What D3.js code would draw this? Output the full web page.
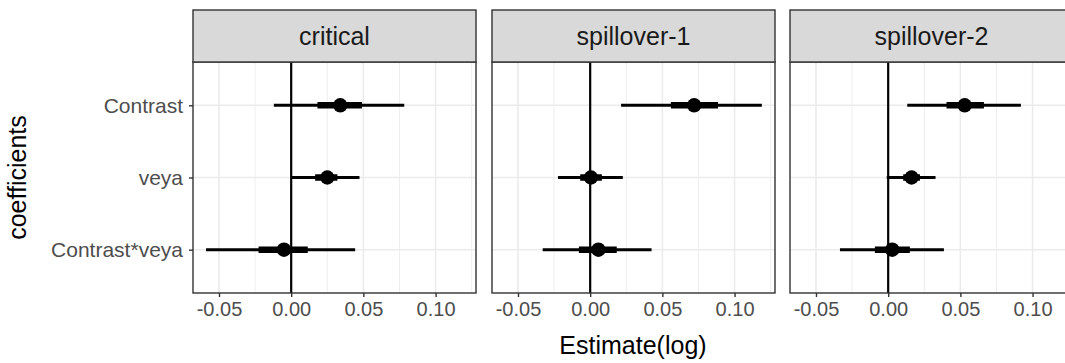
<!DOCTYPE html>
<html>
<head>
<meta charset="utf-8">
<script src="https://cdn.jsdelivr.net/npm/d3@7"></script>
<style>
  body { margin: 0; background: #fff; }
  svg { display: block; font-family: "Liberation Sans", Arial, sans-serif; }
</style>
</head>
<body>
<div id="chart"></div>
<script>
// facets and coefficient rows
const panels = ["critical", "spillover-1", "spillover-2"];
const coefficients = ["Contrast", "veya", "Contrast*veya"];
const xTicks = [-0.05, 0, 0.05, 0.10];
const xMinor = [-0.025, 0.025, 0.075, 0.125];

// point estimates, one array per panel (order of coefficients)
const estimate = [
  [0.034, 0.025, -0.005],
  [0.072, 0.0005, 0.0057],
  [0.053, 0.0162, 0.0028]
];
// outer interval (thin line)
const outerLow = [
  [-0.012, 0.0005, -0.059],
  [0.0214, -0.0223, -0.0329],
  [0.0132, -0.001, -0.0334]
];
const outerHigh = [
  [0.0783, 0.0473, 0.0443],
  [0.1189, 0.0226, 0.0425],
  [0.0919, 0.0328, 0.0386]
];
// inner interval (thick line)
const innerLow = [
  [0.0182, 0.0166, -0.0226],
  [0.0559, -0.0069, -0.0078],
  [0.0404, 0.0104, -0.0092]
];
const innerHigh = [
  [0.049, 0.032, 0.0115],
  [0.0885, 0.0081, 0.0184],
  [0.0663, 0.022, 0.015]
];

const W = 1065, H = 363;
const panelLeft = [193, 492, 790];
const panelW = 283;
const stripTop = 10, panelTop = 62, panelBottom = 293;

const svg = d3.select("#chart").append("svg")
  .attr("width", W).attr("height", H);

const x = d3.scaleLinear().domain([-0.068, 0.128]).range([0, panelW]);
const y = d3.scalePoint().domain(coefficients).range([panelTop, panelBottom]).padding(0.6);

panels.forEach((name, p) => {
  const g = svg.append("g").attr("transform", "translate(" + panelLeft[p] + ",0)");

  // minor + major grid
  g.selectAll(".minor").data(xMinor).enter().append("line")
    .attr("x1", d => x(d)).attr("x2", d => x(d))
    .attr("y1", panelTop).attr("y2", panelBottom)
    .attr("stroke", "#EBEBEB").attr("stroke-width", 0.8);
  g.selectAll(".major").data(xTicks).enter().append("line")
    .attr("x1", d => x(d)).attr("x2", d => x(d))
    .attr("y1", panelTop).attr("y2", panelBottom)
    .attr("stroke", "#EBEBEB").attr("stroke-width", 1.6);
  g.selectAll(".hgrid").data(coefficients).enter().append("line")
    .attr("x1", 0).attr("x2", panelW)
    .attr("y1", d => y(d)).attr("y2", d => y(d))
    .attr("stroke", "#EBEBEB").attr("stroke-width", 1.6);

  // zero reference
  g.append("line")
    .attr("x1", x(0)).attr("x2", x(0))
    .attr("y1", panelTop).attr("y2", panelBottom)
    .attr("stroke", "#000").attr("stroke-width", 2.2);

  const rows = coefficients.map((c, i) => ({
    c: c, est: estimate[p][i],
    lo: outerLow[p][i], hi: outerHigh[p][i],
    lo2: innerLow[p][i], hi2: innerHigh[p][i]
  }));

  g.selectAll(".outer").data(rows).enter().append("line")
    .attr("x1", d => x(d.lo)).attr("x2", d => x(d.hi))
    .attr("y1", d => y(d.c)).attr("y2", d => y(d.c))
    .attr("stroke", "#000").attr("stroke-width", 3);
  g.selectAll(".inner").data(rows).enter().append("line")
    .attr("x1", d => x(d.lo2)).attr("x2", d => x(d.hi2))
    .attr("y1", d => y(d.c)).attr("y2", d => y(d.c))
    .attr("stroke", "#000").attr("stroke-width", 6.5);
  g.selectAll(".pt").data(rows).enter().append("circle")
    .attr("cx", d => x(d.est)).attr("cy", d => y(d.c))
    .attr("r", 7.2).attr("fill", "#000");

  // panel border
  g.append("rect")
    .attr("x", 0).attr("y", panelTop).attr("width", panelW).attr("height", panelBottom - panelTop)
    .attr("fill", "none").attr("stroke", "#333").attr("stroke-width", 1.4);

  // strip
  g.append("rect")
    .attr("x", 0).attr("y", stripTop).attr("width", panelW).attr("height", panelTop - stripTop)
    .attr("fill", "#D9D9D9").attr("stroke", "#333").attr("stroke-width", 1.4);
  g.append("text")
    .attr("x", panelW / 2).attr("y", (stripTop + panelTop) / 2 + 9)
    .attr("text-anchor", "middle")
    .attr("font-size", 25).attr("fill", "#1A1A1A")
    .text(name);

  // x axis
  const xa = g.append("g").attr("transform", "translate(0," + panelBottom + ")")
    .call(d3.axisBottom(x).tickValues(xTicks).tickFormat(d3.format(".2f"))
      .tickSizeInner(4).tickSizeOuter(0).tickPadding(5));
  xa.select(".domain").remove();
  xa.selectAll("line").attr("stroke", "#333").attr("stroke-width", 1.4);
  xa.selectAll("text").attr("font-size", 20).attr("fill", "#4D4D4D")
    .attr("font-family", "Liberation Sans, Arial, sans-serif")
    .text(d => d3.format(".2f")(d).replace("−", "-"));

  if (p === 0) {
    const ya = g.append("g")
      .call(d3.axisLeft(y).tickSizeInner(4).tickSizeOuter(0).tickPadding(6));
    ya.select(".domain").remove();
    ya.selectAll("line").attr("stroke", "#333").attr("stroke-width", 1.4);
    ya.selectAll("text").attr("font-size", 21).attr("fill", "#4D4D4D")
      .attr("font-family", "Liberation Sans, Arial, sans-serif");
  }
});

// axis titles
svg.append("text")
  .attr("x", (panelLeft[0] + panelLeft[2] + panelW) / 2).attr("y", 354)
  .attr("text-anchor", "middle").attr("font-size", 25).attr("fill", "#000")
  .text("Estimate(log)");
svg.append("text")
  .attr("transform", "translate(26," + (panelTop + panelBottom) / 2 + ") rotate(-90)")
  .attr("text-anchor", "middle").attr("font-size", 25).attr("fill", "#000")
  .text("coefficients");
</script>
</body>
</html>
